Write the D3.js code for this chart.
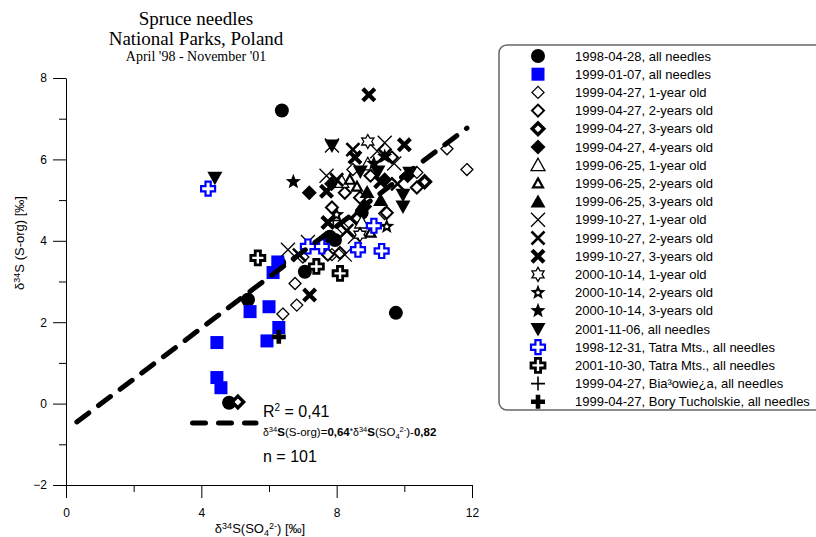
<!DOCTYPE html>
<html>
<head>
<meta charset="utf-8">
<script src="https://cdn.jsdelivr.net/npm/d3@7"></script>
<style>
  body { margin: 0; background: #fff; }
  svg { display: block; font-family: "Liberation Sans", Arial, sans-serif; }
</style>
</head>
<body>
<svg id="chart" width="816" height="537"></svg>
<script>
// points: [d34S(SO4), d34S(S-org)]
const p1998_04_28 = [[6.38,7.20],[9.75,2.23],[5.38,2.55],[7.06,3.24],[4.82,0.02],[6.3,3.45],[7.8,4.1],[8.74,4.69],[7.95,4.02]];
const p1999_01_07 = [[6.26,3.48],[6.12,3.22],[5.44,2.26],[6.0,2.38],[6.29,1.87],[5.94,1.54],[4.46,1.50],[4.46,0.64],[4.58,0.39]];
const p1999_04_27_y1 = [[11.85,5.75],[11.26,6.26],[6.77,2.95],[6.82,2.42],[6.41,2.2],[8.48,5.75],[9.42,4.67],[7.86,3.66],[10.37,5.68],[7.0,3.6],[8.2,4.3]];
const p1999_04_27_y2 = [[8.24,5.18],[8.69,5.06],[7.86,4.82],[9.63,6.05],[10.37,5.31],[9.48,4.69],[7.74,3.66],[8.1,3.7],[9.0,5.6]];
const p1999_04_27_y3 = [[5.08,0.04],[8.6,4.55],[10.6,5.45]];
const p1999_04_27_y4 = [[7.19,5.18],[9.42,5.5],[8.83,4.84],[10.1,5.6],[7.85,5.4]];
const p1999_06_25_y1 = [[8.92,5.88],[8.15,5.45],[8.74,4.45]];
const p1999_06_25_y2 = [[8.39,5.5],[8.6,5.33],[9.0,4.2]];
const p1999_06_25_y3 = [[8.9,5.2],[9.3,5.0]];
const p1999_10_27_y1 = [[7.86,6.34],[9.42,6.41],[6.56,3.78],[7.7,5.6],[8.54,4.1],[7.15,3.97],[8.24,3.66],[9.2,6.2],[9.7,5.9]];
const p1999_10_27_y2 = [[8.48,6.24],[8.0,5.5],[9.42,6.1],[6.9,3.65],[8.3,4.25],[9.8,5.4]];
const p1999_10_27_y3 = [[8.95,7.59],[10.0,6.36],[8.54,6.05],[7.2,2.67],[7.7,5.22],[7.74,4.45],[9.3,5.45]];
const p2000_10_14_y1 = [[8.92,6.44],[8.69,4.15]];
const p2000_10_14_y2 = [[9.48,4.35],[8.0,4.64]];
const p2000_10_14_y3 = [[6.72,5.45],[9.42,6.07],[9.1,5.9]];
const p2001_11_06 = [[4.4,5.55],[7.86,6.34],[9.96,5.13],[9.96,4.84],[9.22,5.7],[10.16,5.67],[8.7,5.7]];
const pTatra1998 = [[4.2,5.28],[9.1,4.37],[9.33,3.75],[8.63,3.78],[7.56,3.86],[7.15,3.86]];
const pTatra2001 = [[5.67,3.58],[7.4,3.37],[8.1,3.2]];
const pBialowieza = [[7.9,4.5]];
const pBory = [[6.29,1.64]];

const legendLabels = [
  "1998-04-28, all needles", "1999-01-07, all needles",
  "1999-04-27, 1-year old", "1999-04-27, 2-years old", "1999-04-27, 3-years old", "1999-04-27, 4-years old",
  "1999-06-25, 1-year old", "1999-06-25, 2-years old", "1999-06-25, 3-years old",
  "1999-10-27, 1-year old", "1999-10-27, 2-years old", "1999-10-27, 3-years old",
  "2000-10-14, 1-year old", "2000-10-14, 2-years old", "2000-10-14, 3-years old",
  "2001-11-06, all needles", "1998-12-31, Tatra Mts., all needles", "2001-10-30, Tatra Mts., all needles",
  "1999-04-27, Bia³owie¿a, all needles", "1999-04-27, Bory Tucholskie, all needles"
];
const symbolKinds = ["circle","square","dia1","dia2","dia3","dia4","tri1","tri2","tri3",
  "x1","x2","x3","hex","star2","star3","tridown","crossBlue","crossBlack","plus","plusBold"];
const seriesPoints = [p1998_04_28,p1999_01_07,p1999_04_27_y1,p1999_04_27_y2,p1999_04_27_y3,p1999_04_27_y4,
  p1999_06_25_y1,p1999_06_25_y2,p1999_06_25_y3,p1999_10_27_y1,p1999_10_27_y2,p1999_10_27_y3,
  p2000_10_14_y1,p2000_10_14_y2,p2000_10_14_y3,p2001_11_06,pTatra1998,pTatra2001,pBialowieza,pBory];

const xTicks = [0, 4, 8, 12], xMinor = [2, 6, 10];
const yTicks = [-2, 0, 2, 4, 6, 8], yMinor = [-1, 1, 3, 5, 7];
const fitLine = [[0.32, -0.45], [11.85, 6.77]];

const svg = d3.select("#chart");
const x = d3.scaleLinear().domain([0, 12]).range([66, 472]);
const y = d3.scaleLinear().domain([-2, 8]).range([485, 78]);

// ---- symbols
function polyPath(pts) { return "M" + pts.map(p => p.join(",")).join("L") + "Z"; }
function starPts(n, ro, ri) {
  return d3.range(n * 2).map(i => {
    const r = i % 2 ? ri : ro, a = -Math.PI / 2 + i * Math.PI / n;
    return [r * Math.cos(a), r * Math.sin(a)];
  });
}
function crossPts(a, L) {
  return [[-a,-L],[a,-L],[a,-a],[L,-a],[L,a],[a,a],[a,L],[-a,L],[-a,a],[-L,a],[-L,-a],[-a,-a]];
}
function lines(g, s, w) {
  return g.append("path").attr("d", s).attr("stroke", "#000").attr("stroke-width", w).attr("fill", "none");
}
function drawSymbol(g, kind) {
  const dia = h => polyPath([[0,-h],[h,0],[0,h],[-h,0]]);
  switch (kind) {
    case "circle": g.append("circle").attr("r", 7).attr("fill", "#000"); break;
    case "square": g.append("rect").attr("x", -6.5).attr("y", -6.5).attr("width", 13).attr("height", 13).attr("fill", "#0000ff"); break;
    case "dia1": g.append("path").attr("d", dia(6)).attr("fill", "#fff").attr("stroke", "#000").attr("stroke-width", 1.3); break;
    case "dia2": g.append("path").attr("d", dia(6)).attr("fill", "#fff").attr("stroke", "#000").attr("stroke-width", 2); break;
    case "dia3": g.append("path").attr("d", dia(5.8)).attr("fill", "#fff").attr("stroke", "#000").attr("stroke-width", 3.4); break;
    case "dia4": g.append("path").attr("d", dia(7.5)).attr("fill", "#000"); break;
    case "tri1": g.append("path").attr("d", polyPath([[0,-7],[7,5.5],[-7,5.5]])).attr("fill", "#fff").attr("stroke", "#000").attr("stroke-width", 1.3); break;
    case "tri2": g.append("path").attr("d", polyPath([[0,-5],[5,4],[-5,4]])).attr("fill", "#fff").attr("stroke", "#000").attr("stroke-width", 2.2); break;
    case "tri3": g.append("path").attr("d", polyPath([[0,-7],[7.5,6],[-7.5,6]])).attr("fill", "#000"); break;
    case "x1": lines(g, "M-7,-7L7,7M-7,7L7,-7", 1.3); break;
    case "x2": lines(g, "M-6.5,-6.5L6.5,6.5M-6.5,6.5L6.5,-6.5", 2.6); break;
    case "x3": lines(g, "M-6,-6L6,6M-6,6L6,-6", 4.2); break;
    case "hex": g.append("path").attr("d", polyPath(starPts(6, 7, 4))).attr("fill", "#fff").attr("stroke", "#000").attr("stroke-width", 1.3); break;
    case "star2":
      g.append("path").attr("d", polyPath(starPts(5, 8, 3.4))).attr("fill", "#000");
      g.append("path").attr("d", polyPath(starPts(5, 2.2, 1.4))).attr("fill", "#fff"); break;
    case "star3": g.append("path").attr("d", polyPath(starPts(5, 8, 3.4))).attr("fill", "#000"); break;
    case "tridown": g.append("path").attr("d", polyPath([[-7.5,-6],[7.5,-6],[0,7.5]])).attr("fill", "#000"); break;
    case "crossBlue": g.append("path").attr("d", polyPath(crossPts(2.6, 7))).attr("fill", "#fff").attr("stroke", "#0000ff").attr("stroke-width", 2.2); break;
    case "crossBlack": g.append("path").attr("d", polyPath(crossPts(2.6, 7))).attr("fill", "#fff").attr("stroke", "#000").attr("stroke-width", 2.8); break;
    case "plus": lines(g, "M-7,0L7,0M0,-7L0,7", 1.6); break;
    case "plusBold": lines(g, "M-7,0L7,0M0,-7L0,7", 4.6); break;
  }
}

// ---- rich text helper: parts = [text, size, shift, bold]
function rich(t, parts) {
  let cur = 0;
  parts.forEach(([s, size, shift, bold]) => {
    t.append("tspan").attr("font-size", size).attr("dy", (shift || 0) - cur)
      .attr("font-weight", bold ? "bold" : null).text(s);
    cur = shift || 0;
  });
}

// ---- title
const title = svg.append("g").attr("font-family", "'Liberation Serif', 'Times New Roman', serif").attr("text-anchor", "middle");
title.append("text").attr("x", 196).attr("y", 25).attr("font-size", 19).text("Spruce needles");
title.append("text").attr("x", 196).attr("y", 45).attr("font-size", 19).text("National Parks, Poland");
title.append("text").attr("x", 196).attr("y", 61).attr("font-size", 14).text("April '98 - November '01");

// ---- axes
function styleAxis(g) {
  g.attr("font-family", "'Liberation Sans', Arial, sans-serif").attr("font-size", 12);
  g.selectAll("line, path").attr("stroke", "#000");
}
svg.append("g").attr("transform", `translate(0,${y(-2)})`)
  .call(d3.axisBottom(x).tickValues(xTicks).tickSize(13).tickSizeOuter(0).tickPadding(10))
  .call(styleAxis);
svg.append("g").attr("transform", `translate(0,${y(-2)})`)
  .call(d3.axisBottom(x).tickValues(xMinor).tickSize(7).tickFormat(""))
  .call(g => g.select(".domain").remove()).call(styleAxis);
svg.append("g").attr("transform", `translate(${x(0)},0)`)
  .call(d3.axisLeft(y).tickValues(yTicks).tickSize(13).tickSizeOuter(0).tickPadding(6))
  .call(styleAxis);
svg.append("g").attr("transform", `translate(${x(0)},0)`)
  .call(d3.axisLeft(y).tickValues(yMinor).tickSize(7).tickFormat(""))
  .call(g => g.select(".domain").remove()).call(styleAxis);

const xt = svg.append("text").attr("x", 260).attr("y", 533).attr("text-anchor", "middle");
rich(xt, [["δ", 13], ["34", 9, -4], ["S(SO", 13, 0], ["4", 9, 3], ["2-", 9, -4], [") [‰]", 13, 0]]);
const yt = svg.append("text").attr("transform", "translate(24,243) rotate(-90)").attr("text-anchor", "middle");
rich(yt, [["δ", 13], ["34", 9, -4], ["S (S-org)  [‰]", 13, 0]]);

// ---- points
seriesPoints.forEach((pts, i) => {
  svg.append("g").selectAll("g").data(pts).join("g")
    .attr("transform", d => `translate(${x(d[0])},${y(d[1])})`)
    .each(function () { drawSymbol(d3.select(this), symbolKinds[i]); });
});

// ---- regression line (dashes chosen so it ends in a dot like the original)
svg.append("path")
  .attr("d", d3.line().x(d => x(d[0])).y(d => y(d[1]))(fitLine))
  .attr("fill", "none").attr("stroke", "#000").attr("stroke-width", 5)
  .attr("stroke-linecap", "round").attr("stroke-dasharray", "15,12.1");

// ---- fit annotation
svg.append("line").attr("x1", 192.5).attr("x2", 256).attr("y1", 423).attr("y2", 423)
  .attr("stroke", "#000").attr("stroke-width", 5).attr("stroke-linecap", "round").attr("stroke-dasharray", "13,13");
const r2 = svg.append("text").attr("x", 263).attr("y", 417);
rich(r2, [["R", 16], ["2", 10, -6], [" = 0,41", 16, 0]]);
const eq = svg.append("text").attr("x", 263).attr("y", 436);
rich(eq, [["δ", 10.5], ["34", 7.5, -4], ["S", 11.5, 0, true], ["(S-org)=", 11.5, 0], ["0,64", 11.5, 0, true], ["*", 8.5, -2],
  ["δ", 10.5, 0], ["34", 7.5, -4], ["S", 11.5, 0, true], ["(SO", 11.5, 0], ["4", 7.5, 3], ["2-", 7.5, -4], [")-", 11.5, 0], ["0,82", 11.5, 0, true]]);
svg.append("text").attr("x", 263).attr("y", 462).attr("font-size", 16).text("n = 101");

// ---- legend
const leg = svg.append("g");
leg.append("rect").attr("x", 499).attr("y", 45).attr("width", 340).attr("height", 365).attr("rx", 8)
  .attr("fill", "#fff").attr("stroke", "#666").attr("stroke-width", 1.5);
legendLabels.forEach((lab, i) => {
  const yy = 56 + i * 18.2;
  drawSymbol(leg.append("g").attr("transform", `translate(538,${yy})`), symbolKinds[i]);
  leg.append("text").attr("x", 575).attr("y", yy).attr("dy", "0.35em").attr("font-size", 13).text(lab);
});
</script>
</body>
</html>
